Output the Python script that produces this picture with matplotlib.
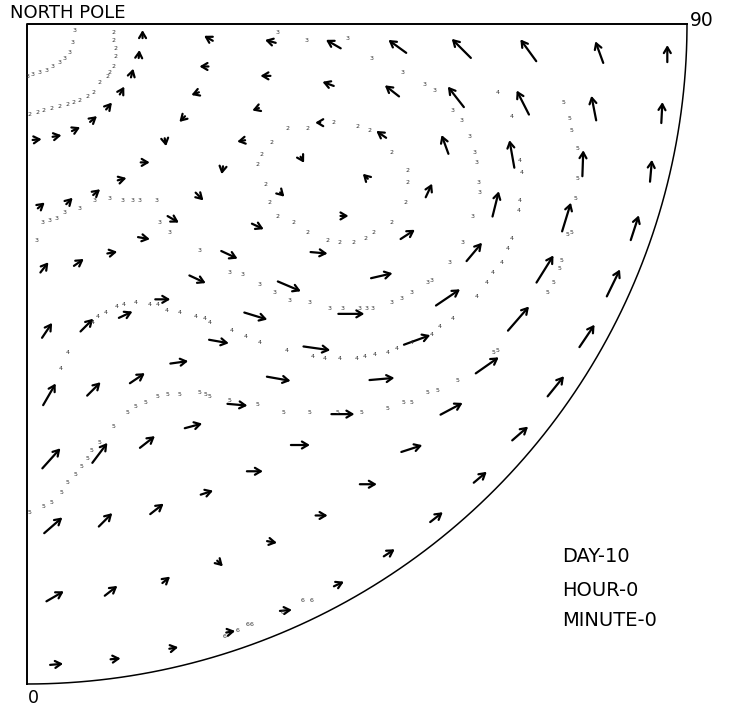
import numpy as np
import matplotlib
matplotlib.use('Agg')
import matplotlib.pyplot as plt

# map units: distance east (x) and south (y) of the pole, equator radius = 660
EQUATOR = 660

# arrow rings (distance from pole), arrows equally spaced in longitude on each ring
ring_radius = [116, 182, 244, 307, 371, 435, 502, 573, 641]

# wind direction on the page (deg, 0 = right, 90 = up) and arrow length, from lon 0 to 90
wind_dir = [
    [5, 10, 25, 40, 50, 60, 75, 85, 90],
    [40, 45, 40, 15, 0, -80, -135, -160, 180, 150],
    [52, 35, 10, -10, -30, -45, -100, 190, 200, 180, 165],
    [56, 45, 25, 0, -25, -25, -25, -45, -60, 180, 160, 150],
    [60, 45, 34, 8, -10, -17, -23, -5, 0, 135, 145, 142, 144],
    [48, 53, 38, 15, -5, -10, -8, 0, 13, 33, 65, 110, 128, 135],
    [41, 45, 38, 18, 0, 0, 0, 5, 20, 34, 50, 76, 100, 117, 126],
    [30, 38, 40, -45, -10, 0, 0, 18, 28, 35, 49, 58, 73, 88, 101, 110],
    [5, 5, 10, 10, 5, 25, 33, 38, 40, 41, 51, 56, 64, 72, 85, 87, 90],
]
wind_len = [
    [9, 9, 9, 9, 9, 9, 9, 8, 8],
    [9, 9, 9, 9, 9, 8, 8, 8, 9, 10],
    [13, 12, 10, 12, 13, 11, 8, 8, 7, 10, 11],
    [18, 18, 15, 15, 18, 18, 13, 6, 7, 5, 12, 17],
    [25, 19, 18, 18, 20, 24, 25, 17, 8, 7, 12, 18, 22],
    [27, 25, 19, 18, 20, 24, 27, 26, 22, 17, 15, 20, 26, 27],
    [24, 19, 17, 13, 16, 19, 23, 25, 28, 29, 24, 26, 28, 27, 27],
    [20, 16, 10, 8, 10, 12, 17, 22, 25, 28, 32, 32, 30, 26, 25, 23],
    [13, 10, 9, 9, 12, 11, 13, 16, 17, 21, 26, 27, 30, 26, 22, 21, 17],
]

# contour lines, printed as strings of digits (x east, y south)
contour_3_pole = [(48, 6), (46, 18), (43, 28), (38, 35), (33, 39), (26, 42), (20, 46),
                  (13, 49), (6, 51), (1, 53)]
contour_2_pole = [(86, 8), (87, 16), (88, 24), (88, 33), (86, 43), (83, 48), (80, 53),
                  (73, 59), (66, 68), (60, 73), (53, 76), (46, 79), (40, 81), (33, 83),
                  (25, 84), (16, 86), (10, 88), (2, 91)]
contour_3 = [(10, 216), (16, 198), (23, 197), (30, 194), (38, 189), (53, 184), (68, 176),
             (83, 175), (96, 176), (106, 176), (113, 176), (130, 176), (133, 198),
             (143, 208), (173, 226), (203, 248), (216, 251), (233, 261), (248, 269),
             (263, 276), (283, 279), (303, 284), (316, 284), (333, 284), (340, 284),
             (346, 284), (365, 279), (375, 274), (385, 269), (401, 258), (405, 256),
             (423, 239), (436, 219), (446, 193), (453, 168), (452, 158), (450, 139),
             (448, 129), (443, 113), (435, 96), (426, 86), (408, 66), (398, 61),
             (376, 48), (345, 34), (321, 15), (280, 16), (251, 9)]
contour_2_loop = [(245, 119), (235, 131), (231, 141), (238, 161), (243, 179), (251, 193),
                  (266, 199), (280, 209), (301, 216), (313, 219), (326, 219), (338, 214),
                  (346, 208), (365, 199), (378, 178), (381, 158), (380, 146), (365, 129),
                  (343, 106), (331, 103), (306, 99), (280, 104), (261, 104)]
contour_4 = [(34, 345), (41, 328), (66, 298), (71, 292), (79, 288), (90, 282), (97, 281),
             (109, 279), (123, 280), (131, 281), (140, 286), (153, 288), (169, 292),
             (178, 295), (183, 298), (205, 306), (219, 313), (233, 319), (260, 326),
             (286, 333), (298, 334), (313, 334), (330, 334), (338, 333), (348, 331),
             (361, 328), (370, 324), (385, 319), (405, 310), (413, 303), (426, 294),
             (450, 273), (460, 259), (466, 249), (475, 239), (481, 224), (485, 214),
             (492, 186), (493, 176), (495, 149), (493, 136), (485, 93), (471, 68)]
contour_5 = [(3, 488), (16, 483), (25, 478), (34, 468), (41, 458), (48, 451), (55, 442),
             (61, 435), (65, 426), (73, 419), (86, 403), (100, 389), (108, 383),
             (118, 379), (130, 373), (141, 370), (153, 370), (173, 369), (178, 370),
             (183, 372), (203, 376), (230, 381), (256, 388), (283, 389), (310, 389),
             (335, 388), (361, 384), (376, 378), (385, 379), (400, 369), (410, 366),
             (430, 356), (466, 328), (470, 326), (521, 268), (526, 259), (533, 244),
             (535, 236), (541, 211), (545, 208), (548, 174), (550, 154), (550, 124),
             (545, 106), (543, 94), (536, 79)]
contour_6 = [(198, 612), (211, 606), (221, 601), (225, 600), (256, 589), (276, 576),
             (285, 576)]

contours = [('3', contour_3_pole), ('2', contour_2_pole), ('3', contour_3),
            ('2', contour_2_loop), ('4', contour_4), ('5', contour_5), ('6', contour_6)]

fig = plt.figure(figsize=(7.32, 7.08), dpi=100)
ax = fig.add_axes([0, 0, 1, 1])
ax.set_xlim(-27, 705)
ax.set_ylim(684, -24)
ax.axis('off')

# domain outline: meridians 0 and 90 and the equator
t = np.linspace(0, np.pi / 2, 200)
ax.plot(EQUATOR * np.sin(t), EQUATOR * np.cos(t), color='black', lw=1.1)
ax.plot([0, 0, EQUATOR], [EQUATOR, 0, 0], color='black', lw=1.4)

# wind arrows
for r, dirs, lens in zip(ring_radius, wind_dir, wind_len):
    n = len(dirs)
    for j, (a, L) in enumerate(zip(dirs, lens)):
        lon = np.radians((j + 0.5) * 90.0 / n)
        px, py = r * np.sin(lon), r * np.cos(lon)
        dx, dy = L * np.cos(np.radians(a)), -L * np.sin(np.radians(a))
        ax.annotate('', xy=(px + dx / 2, py + dy / 2), xytext=(px - dx / 2, py - dy / 2),
                    arrowprops=dict(arrowstyle='->,head_length=0.42,head_width=0.25',
                                    lw=1.6, color='black', shrinkA=0, shrinkB=0))

# contour digits
for label, pts in contours:
    for x, y in pts:
        ax.text(x, y, label, fontsize=4.5, color='#333333', ha='center', va='center')

ax.text(-17, -11, 'NORTH POLE', fontsize=13, ha='left', va='center')
ax.text(EQUATOR + 3, -3, '90', fontsize=13.5, ha='left', va='center')
ax.text(1, EQUATOR + 14, '0', fontsize=12.5, ha='left', va='center')
ax.text(535, 532, 'DAY-10', fontsize=14, ha='left', va='center')
ax.text(535, 566, 'HOUR-0', fontsize=14, ha='left', va='center')
ax.text(535, 596, 'MINUTE-0', fontsize=14, ha='left', va='center')

fig.savefig('out.png', dpi=100)
